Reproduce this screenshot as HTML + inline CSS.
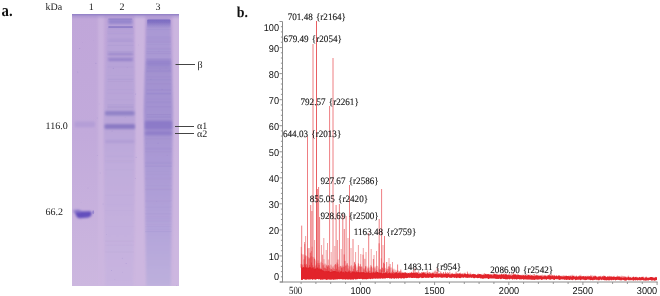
<!DOCTYPE html>
<html><head><meta charset="utf-8"><style>
html,body{margin:0;padding:0;background:#fff;} body>*{filter:blur(0.35px);}
body{width:660px;height:296px;position:relative;overflow:hidden;font-family:"Liberation Serif",serif;color:#222;text-rendering:geometricPrecision;}
.t{position:absolute;white-space:nowrap;line-height:1;}
</style></head><body>
<div class="t" style="left:45.5px;top:3px;font-size:10px">kDa</div>
<div class="t" style="left:88.8px;top:2.5px;font-size:10px">1</div>
<div class="t" style="left:119.5px;top:2.5px;font-size:10px">2</div>
<div class="t" style="left:155.5px;top:2.5px;font-size:10px">3</div>
<div class="t" style="left:45.5px;top:121.8px;font-size:10px">116.0</div>
<div class="t" style="left:45.5px;top:208.2px;font-size:10px">66.2</div>
<svg width="107" height="272" viewBox="0 0 107 272" style="position:absolute;left:72px;top:14px">
<defs>
 <linearGradient id="bg" x1="0" y1="0" x2="0" y2="1">
  <stop offset="0" stop-color="#c0a6d9"/><stop offset="0.45" stop-color="#c2aadb"/><stop offset="1" stop-color="#ccb7df"/>
 </linearGradient>
 <linearGradient id="l2" x1="0" y1="0" x2="0" y2="1">
  <stop offset="0" stop-color="#b6a2d8"/><stop offset="0.42" stop-color="#baa6d9"/><stop offset="0.55" stop-color="#c0acdc"/><stop offset="1" stop-color="#c8b4e0"/>
 </linearGradient>
 <linearGradient id="l3" x1="0" y1="0" x2="0" y2="1">
  <stop offset="0" stop-color="#a696d2"/>
  <stop offset="0.06" stop-color="#aa99d4"/>
  <stop offset="0.16" stop-color="#aa99d4"/>
  <stop offset="0.2" stop-color="#a392d0"/>
  <stop offset="0.39" stop-color="#a493d1"/>
  <stop offset="0.5" stop-color="#a998d4"/>
  <stop offset="0.75" stop-color="#b2a2d9"/>
  <stop offset="1" stop-color="#bdb0dd"/>
 </linearGradient>
 <linearGradient id="cap" x1="0" y1="0" x2="0" y2="1">
  <stop offset="0" stop-color="#7868c0" stop-opacity="0.95"/><stop offset="0.35" stop-color="#7c6cc2" stop-opacity="0.8"/><stop offset="1" stop-color="#8a7ac8" stop-opacity="0"/>
 </linearGradient>
 <filter id="bl" x="-30%" y="-300%" width="160%" height="700%"><feGaussianBlur stdDeviation="1.0 1.1"/></filter>
 <filter id="bl2" x="-30%" y="-30%" width="160%" height="160%"><feGaussianBlur stdDeviation="1.3"/></filter>
 <filter id="bl3" x="-30%" y="-300%" width="160%" height="700%"><feGaussianBlur stdDeviation="0.6 0.6"/></filter>
</defs>
<rect width="107" height="272" fill="url(#bg)"/>
<g filter="url(#bl2)">
<rect x="26" y="0" width="6" height="272" fill="#cdb6e0" opacity="0.7"/>
<rect x="62.5" y="0" width="10.5" height="272" fill="#ceb7e0" opacity="0.85"/>
<rect x="100.5" y="0" width="8" height="272" fill="#ceb7e0" opacity="0.85"/>
</g>
<path d="M35.5 4.5 L61.5 4.5 L63 106 L61 272 L33.5 272 L32.2 106 Z" fill="url(#l2)" filter="url(#bl2)"/>
<path d="M74.5 5.5 Q75 4.5 77 4.5 L96.5 4.5 Q98.5 4.5 98.5 7 L100.6 96 L98.80000000000001 272 L74.30000000000001 272 L71.80000000000001 96 Z" fill="url(#l3)" filter="url(#bl2)"/>
<linearGradient id="tg" x1="0" y1="0" x2="0" y2="1"><stop offset="0" stop-color="#8e7ec6" stop-opacity="0.6"/><stop offset="1" stop-color="#8e7ec6" stop-opacity="0"/></linearGradient>
<rect x="0" y="0" width="107" height="5" fill="url(#tg)"/>
<rect x="0" y="0" width="107" height="1.3" fill="#9684c8" filter="url(#bl3)"/>
<g filter="url(#bl3)"><rect x="35.5" y="65.1" width="26.0" height="1.2" fill="#9c8acb" opacity="0.15"/><rect x="35.5" y="91.3" width="26.0" height="1.3" fill="#9c8acb" opacity="0.15"/><rect x="35.5" y="16.4" width="26.0" height="1.4" fill="#9c8acb" opacity="0.13"/><rect x="35.5" y="67.2" width="26.0" height="0.7" fill="#9c8acb" opacity="0.17"/><rect x="35.5" y="52.5" width="26.0" height="1.0" fill="#9c8acb" opacity="0.10"/><rect x="35.5" y="61.1" width="26.0" height="0.8" fill="#9c8acb" opacity="0.08"/><rect x="35.5" y="36.9" width="26.0" height="1.2" fill="#9c8acb" opacity="0.17"/><rect x="35.5" y="27.1" width="26.0" height="0.7" fill="#9c8acb" opacity="0.16"/><rect x="35.5" y="64.6" width="26.0" height="0.6" fill="#9c8acb" opacity="0.09"/><rect x="35.5" y="85.5" width="26.0" height="0.8" fill="#9c8acb" opacity="0.10"/><rect x="35.5" y="94.6" width="26.0" height="0.8" fill="#9c8acb" opacity="0.17"/><rect x="35.5" y="92.8" width="26.0" height="1.1" fill="#9c8acb" opacity="0.13"/><rect x="35.5" y="30.8" width="26.0" height="1.2" fill="#9c8acb" opacity="0.17"/><rect x="35.5" y="93.3" width="26.0" height="0.8" fill="#9c8acb" opacity="0.17"/><rect x="35.5" y="43.6" width="26.0" height="0.7" fill="#9c8acb" opacity="0.10"/><rect x="35.5" y="19.3" width="26.0" height="1.1" fill="#9c8acb" opacity="0.11"/><rect x="35.5" y="14.3" width="26.0" height="0.9" fill="#9c8acb" opacity="0.15"/><rect x="35.5" y="39.4" width="26.0" height="1.0" fill="#9c8acb" opacity="0.16"/><rect x="35.5" y="39.9" width="26.0" height="1.2" fill="#9c8acb" opacity="0.13"/><rect x="35.5" y="18.7" width="26.0" height="0.6" fill="#9c8acb" opacity="0.18"/><rect x="35.5" y="75.5" width="26.0" height="0.6" fill="#9c8acb" opacity="0.16"/><rect x="35.5" y="78.6" width="26.0" height="1.1" fill="#9c8acb" opacity="0.12"/><rect x="35.5" y="14.7" width="26.0" height="0.7" fill="#9c8acb" opacity="0.08"/><rect x="35.5" y="92.3" width="26.0" height="1.2" fill="#9c8acb" opacity="0.10"/><rect x="35.5" y="90.2" width="26.0" height="0.9" fill="#9c8acb" opacity="0.17"/><rect x="35.5" y="43.1" width="26.0" height="1.2" fill="#9c8acb" opacity="0.13"/><rect x="33.0" y="147.9" width="29.0" height="1.2" fill="#a897d0" opacity="0.07"/><rect x="33.0" y="230.6" width="29.0" height="1.4" fill="#a897d0" opacity="0.08"/><rect x="33.0" y="146.0" width="29.0" height="1.1" fill="#a897d0" opacity="0.08"/><rect x="33.0" y="237.0" width="29.0" height="1.3" fill="#a897d0" opacity="0.08"/><rect x="33.0" y="196.0" width="29.0" height="0.9" fill="#a897d0" opacity="0.08"/><rect x="33.0" y="155.5" width="29.0" height="0.7" fill="#a897d0" opacity="0.08"/><rect x="33.0" y="211.8" width="29.0" height="0.7" fill="#a897d0" opacity="0.07"/><rect x="33.0" y="141.3" width="29.0" height="1.0" fill="#a897d0" opacity="0.07"/><rect x="33.0" y="180.6" width="29.0" height="1.1" fill="#a897d0" opacity="0.08"/><rect x="33.0" y="226.9" width="29.0" height="0.9" fill="#a897d0" opacity="0.08"/><rect x="33.0" y="142.1" width="29.0" height="0.6" fill="#a897d0" opacity="0.07"/><rect x="33.0" y="190.3" width="29.0" height="0.7" fill="#a897d0" opacity="0.07"/><rect x="74.5" y="79.3" width="24.5" height="1.1" fill="#8e7cc6" opacity="0.19"/><rect x="74.5" y="84.5" width="24.5" height="0.9" fill="#8e7cc6" opacity="0.09"/><rect x="74.5" y="25.7" width="24.5" height="0.8" fill="#8e7cc6" opacity="0.18"/><rect x="74.5" y="53.7" width="24.5" height="1.3" fill="#8e7cc6" opacity="0.20"/><rect x="74.5" y="101.8" width="24.5" height="1.0" fill="#8e7cc6" opacity="0.13"/><rect x="74.5" y="79.1" width="24.5" height="0.8" fill="#8e7cc6" opacity="0.14"/><rect x="74.5" y="49.1" width="24.5" height="0.9" fill="#8e7cc6" opacity="0.10"/><rect x="74.5" y="102.9" width="24.5" height="1.1" fill="#8e7cc6" opacity="0.20"/><rect x="74.5" y="57.9" width="24.5" height="0.7" fill="#8e7cc6" opacity="0.12"/><rect x="74.5" y="37.1" width="24.5" height="1.3" fill="#8e7cc6" opacity="0.17"/><rect x="74.5" y="45.2" width="24.5" height="1.2" fill="#8e7cc6" opacity="0.17"/><rect x="74.5" y="75.9" width="24.5" height="1.2" fill="#8e7cc6" opacity="0.16"/><rect x="74.5" y="45.4" width="24.5" height="0.8" fill="#8e7cc6" opacity="0.16"/><rect x="74.5" y="56.7" width="24.5" height="1.2" fill="#8e7cc6" opacity="0.17"/><rect x="74.5" y="39.0" width="24.5" height="1.1" fill="#8e7cc6" opacity="0.19"/><rect x="74.5" y="65.4" width="24.5" height="1.0" fill="#8e7cc6" opacity="0.08"/><rect x="74.5" y="35.1" width="24.5" height="1.0" fill="#8e7cc6" opacity="0.16"/><rect x="74.5" y="87.1" width="24.5" height="1.2" fill="#8e7cc6" opacity="0.16"/><rect x="74.5" y="44.0" width="24.5" height="1.2" fill="#8e7cc6" opacity="0.16"/><rect x="74.5" y="88.2" width="24.5" height="1.3" fill="#8e7cc6" opacity="0.12"/><rect x="74.5" y="92.0" width="24.5" height="1.4" fill="#8e7cc6" opacity="0.16"/><rect x="74.5" y="100.0" width="24.5" height="1.0" fill="#8e7cc6" opacity="0.14"/><rect x="74.5" y="27.3" width="24.5" height="1.3" fill="#8e7cc6" opacity="0.18"/><rect x="74.5" y="55.9" width="24.5" height="1.2" fill="#8e7cc6" opacity="0.16"/><rect x="74.5" y="79.2" width="24.5" height="1.2" fill="#8e7cc6" opacity="0.10"/><rect x="74.5" y="65.4" width="24.5" height="0.9" fill="#8e7cc6" opacity="0.16"/><rect x="74.5" y="69.4" width="24.5" height="1.1" fill="#8e7cc6" opacity="0.17"/><rect x="74.5" y="78.3" width="24.5" height="0.7" fill="#8e7cc6" opacity="0.08"/><rect x="74.5" y="52.6" width="24.5" height="0.8" fill="#8e7cc6" opacity="0.16"/><rect x="74.5" y="75.1" width="24.5" height="0.6" fill="#8e7cc6" opacity="0.16"/><rect x="74.5" y="55.4" width="24.5" height="0.6" fill="#8e7cc6" opacity="0.11"/><rect x="74.5" y="24.3" width="24.5" height="0.7" fill="#8e7cc6" opacity="0.12"/><rect x="74.5" y="29.8" width="24.5" height="1.0" fill="#8e7cc6" opacity="0.08"/><rect x="74.5" y="47.0" width="24.5" height="1.1" fill="#8e7cc6" opacity="0.15"/><rect x="74.5" y="33.9" width="24.5" height="0.6" fill="#8e7cc6" opacity="0.19"/><rect x="74.5" y="49.3" width="24.5" height="0.9" fill="#8e7cc6" opacity="0.11"/><rect x="74.5" y="22.6" width="24.5" height="0.9" fill="#8e7cc6" opacity="0.18"/><rect x="74.5" y="15.3" width="24.5" height="0.7" fill="#8e7cc6" opacity="0.15"/><rect x="74.5" y="62.2" width="24.5" height="1.1" fill="#8e7cc6" opacity="0.12"/><rect x="74.5" y="100.2" width="24.5" height="0.9" fill="#8e7cc6" opacity="0.18"/><rect x="73.0" y="202.7" width="26.5" height="0.9" fill="#9886ca" opacity="0.09"/><rect x="73.0" y="136.9" width="26.5" height="1.1" fill="#9886ca" opacity="0.09"/><rect x="73.0" y="216.8" width="26.5" height="1.1" fill="#9886ca" opacity="0.10"/><rect x="73.0" y="157.4" width="26.5" height="0.6" fill="#9886ca" opacity="0.10"/><rect x="73.0" y="133.6" width="26.5" height="1.1" fill="#9886ca" opacity="0.09"/><rect x="73.0" y="136.8" width="26.5" height="1.3" fill="#9886ca" opacity="0.09"/><rect x="73.0" y="159.8" width="26.5" height="0.8" fill="#9886ca" opacity="0.09"/><rect x="73.0" y="151.6" width="26.5" height="0.9" fill="#9886ca" opacity="0.10"/><rect x="73.0" y="217.2" width="26.5" height="1.1" fill="#9886ca" opacity="0.10"/><rect x="73.0" y="148.5" width="26.5" height="1.0" fill="#9886ca" opacity="0.10"/><rect x="73.0" y="163.7" width="26.5" height="1.4" fill="#9886ca" opacity="0.09"/><rect x="73.0" y="171.2" width="26.5" height="1.0" fill="#9886ca" opacity="0.09"/><rect x="73.0" y="134.9" width="26.5" height="1.0" fill="#9886ca" opacity="0.09"/><rect x="73.0" y="151.7" width="26.5" height="1.3" fill="#9886ca" opacity="0.10"/><rect x="73.0" y="124.3" width="26.5" height="0.8" fill="#9886ca" opacity="0.09"/><rect x="73.0" y="214.7" width="26.5" height="0.8" fill="#9886ca" opacity="0.10"/><rect x="73.0" y="149.2" width="26.5" height="1.4" fill="#9886ca" opacity="0.08"/><rect x="73.0" y="151.7" width="26.5" height="1.0" fill="#9886ca" opacity="0.09"/><rect x="73.0" y="186.2" width="26.5" height="1.2" fill="#9886ca" opacity="0.09"/><rect x="73.0" y="134.6" width="26.5" height="0.8" fill="#9886ca" opacity="0.10"/><rect x="73.0" y="175.3" width="26.5" height="0.8" fill="#9886ca" opacity="0.09"/><rect x="73.0" y="174.9" width="26.5" height="0.9" fill="#9886ca" opacity="0.09"/><rect x="73.0" y="196.0" width="26.5" height="0.6" fill="#9886ca" opacity="0.09"/><rect x="73.0" y="147.7" width="26.5" height="1.3" fill="#9886ca" opacity="0.09"/><rect x="73.0" y="210.0" width="26.5" height="0.6" fill="#9886ca" opacity="0.09"/><rect x="73.0" y="199.3" width="26.5" height="1.1" fill="#9886ca" opacity="0.09"/><rect x="73.0" y="192.4" width="26.5" height="1.0" fill="#9886ca" opacity="0.09"/><rect x="73.0" y="212.3" width="26.5" height="0.9" fill="#9886ca" opacity="0.09"/><rect x="73.0" y="206.5" width="26.5" height="0.8" fill="#9886ca" opacity="0.08"/><rect x="73.0" y="204.3" width="26.5" height="1.3" fill="#9886ca" opacity="0.08"/></g>
<g filter="url(#bl)"><rect x="36.4" y="4.9" width="23.8" height="5.2" rx="1.5" fill="#8f80ca" opacity="0.8"/><rect x="36.0" y="25.6" width="25.0" height="1.4" rx="1.5" fill="#9a88ca" opacity="0.55"/><rect x="36.0" y="38.8" width="25.0" height="2.4" rx="1.5" fill="#9482c8" opacity="0.7"/><rect x="36.0" y="44.3" width="25.0" height="2.7" rx="1.5" fill="#8c79c6" opacity="0.8"/><rect x="33.0" y="96.9" width="29.5" height="4.5" rx="1.5" fill="#8a7cc4" opacity="0.85"/><rect x="32.5" y="109.9" width="30.5" height="5.1" rx="1.5" fill="#8677c2" opacity="0.9"/><rect x="33.0" y="126.6" width="29.5" height="2.0" rx="1.5" fill="#a290ce" opacity="0.6"/><rect x="74.5" y="46.0" width="24.5" height="6.5" rx="1.5" fill="#8b79c8" opacity="0.6"/><rect x="74.5" y="52.5" width="24.5" height="5.5" rx="1.5" fill="#9c8bce" opacity="0.5"/><rect x="73.0" y="106.8" width="27.0" height="8.6" rx="1.5" fill="#8a78c8" opacity="0.9"/><rect x="73.0" y="117.0" width="27.0" height="4.2" rx="1.5" fill="#8d7bc8" opacity="0.85"/><rect x="2.5" y="107.6" width="20.5" height="5.6" rx="1.5" fill="#aa96d4" opacity="0.55"/></g>
<rect x="75.19999999999999" y="5.399999999999999" width="23.3" height="9" rx="1" fill="url(#cap)" filter="url(#bl3)"/>
<g filter="url(#bl3)"><rect x="36.4" y="12.4" width="24.3" height="1.3" fill="#7c6cc0" opacity="0.9"/><rect x="36.4" y="4.6" width="23.8" height="1.0" fill="#8070c2" opacity="0.6"/></g>
<path d="M3.0 197.6 L18.5 197.3 Q20.0 197.5 19.599999999999994 200.5 Q19.0 203.6 14 203.8 L8 204.2 Q5 204.2 4 201.5 Z" fill="#6350bd" filter="url(#bl)"/>
<ellipse cx="5" cy="197.3" rx="4" ry="1.8" fill="#7a68c4" opacity="0.6" filter="url(#bl)"/>
<ellipse cx="21.200000000000003" cy="198.3" rx="0.9" ry="2.0" fill="#7f6ec6" opacity="0.6" filter="url(#bl3)"/>
<g filter="url(#bl3)"><circle cx="74.3" cy="129.1" r="0.4" fill="#8e7cc6" opacity="0.40"/><circle cx="97.4" cy="56.0" r="0.5" fill="#8e7cc6" opacity="0.34"/><circle cx="53.3" cy="103.3" r="0.4" fill="#8e7cc6" opacity="0.35"/><circle cx="86.9" cy="37.2" r="0.4" fill="#8e7cc6" opacity="0.40"/><circle cx="84.7" cy="187.2" r="0.4" fill="#8e7cc6" opacity="0.38"/><circle cx="104.7" cy="271.6" r="0.5" fill="#8e7cc6" opacity="0.21"/><circle cx="90.1" cy="75.2" r="0.5" fill="#8e7cc6" opacity="0.44"/><circle cx="76.2" cy="53.9" r="0.4" fill="#8e7cc6" opacity="0.43"/><circle cx="16.0" cy="173.9" r="0.5" fill="#8e7cc6" opacity="0.24"/><circle cx="66.6" cy="31.0" r="0.4" fill="#8e7cc6" opacity="0.29"/><circle cx="7.7" cy="34.5" r="0.5" fill="#8e7cc6" opacity="0.39"/><circle cx="94.0" cy="53.9" r="0.5" fill="#8e7cc6" opacity="0.28"/><circle cx="64.2" cy="143.4" r="0.6" fill="#8e7cc6" opacity="0.29"/><circle cx="6.0" cy="195.7" r="0.4" fill="#8e7cc6" opacity="0.36"/><circle cx="54.1" cy="249.4" r="0.5" fill="#8e7cc6" opacity="0.36"/><circle cx="28.2" cy="159.0" r="0.4" fill="#8e7cc6" opacity="0.39"/><circle cx="55.3" cy="53.7" r="0.4" fill="#8e7cc6" opacity="0.29"/><circle cx="78.8" cy="65.2" r="0.5" fill="#8e7cc6" opacity="0.36"/><circle cx="9.1" cy="188.3" r="0.4" fill="#8e7cc6" opacity="0.23"/><circle cx="63.6" cy="80.1" r="0.6" fill="#8e7cc6" opacity="0.32"/><circle cx="34.6" cy="220.7" r="0.4" fill="#8e7cc6" opacity="0.38"/><circle cx="5.7" cy="58.0" r="0.6" fill="#8e7cc6" opacity="0.37"/><circle cx="23.9" cy="49.3" r="0.6" fill="#8e7cc6" opacity="0.37"/><circle cx="87.8" cy="55.2" r="0.5" fill="#8e7cc6" opacity="0.29"/><circle cx="25.1" cy="104.0" r="0.5" fill="#8e7cc6" opacity="0.29"/><circle cx="41.3" cy="54.4" r="0.6" fill="#8e7cc6" opacity="0.36"/><circle cx="86.1" cy="129.2" r="0.6" fill="#8e7cc6" opacity="0.33"/><circle cx="63.4" cy="164.5" r="0.5" fill="#8e7cc6" opacity="0.30"/><circle cx="10.4" cy="28.4" r="0.4" fill="#8e7cc6" opacity="0.21"/><circle cx="95.2" cy="141.2" r="0.5" fill="#8e7cc6" opacity="0.20"/><circle cx="50.3" cy="244.2" r="0.5" fill="#8e7cc6" opacity="0.31"/><circle cx="49.8" cy="45.1" r="0.4" fill="#8e7cc6" opacity="0.24"/><circle cx="40.1" cy="117.2" r="0.6" fill="#8e7cc6" opacity="0.24"/><circle cx="27.2" cy="89.9" r="0.4" fill="#8e7cc6" opacity="0.27"/><circle cx="25.2" cy="141.5" r="0.4" fill="#8e7cc6" opacity="0.43"/><circle cx="39.5" cy="256.4" r="0.5" fill="#8e7cc6" opacity="0.37"/><circle cx="50.5" cy="258.2" r="0.4" fill="#8e7cc6" opacity="0.37"/><circle cx="31.1" cy="190.0" r="0.5" fill="#8e7cc6" opacity="0.24"/><circle cx="21.5" cy="26.3" r="0.4" fill="#8e7cc6" opacity="0.22"/><circle cx="42.9" cy="265.3" r="0.4" fill="#8e7cc6" opacity="0.28"/></g>
</svg>
<svg width="660" height="296" style="position:absolute;left:0;top:0">
<path d="M175.5 64.5H195M175 126.5H194M175 133.5H194" stroke="#444" stroke-width="1" fill="none"/>
<text transform="translate(1.6,15.9) scale(0.87,1)" font-family="Liberation Serif" font-weight="bold" font-size="17" fill="#111">a.</text>
<text transform="translate(236.8,16.9) scale(0.93,1)" font-family="Liberation Serif" font-weight="bold" font-size="15" fill="#111">b.</text>
<g font-family="Liberation Serif" font-size="10" fill="#222">
<text x="197.5" y="67.5">β</text>
<text x="197" y="128.6">α1</text>
<text x="197" y="137.1">α2</text>
</g>
</svg>
<svg width="660" height="296" style="position:absolute;left:0;top:0">
<polygon points="301.0,266.9 301.8,267.2 302.6,267.8 303.4,267.1 304.2,267.2 305.0,267.4 305.8,266.8 306.6,267.4 307.4,267.7 308.2,268.0 309.0,266.9 309.8,267.3 310.6,267.0 311.4,268.2 312.2,268.1 313.0,267.1 313.8,268.7 314.6,268.7 315.4,268.4 316.2,268.5 317.0,268.1 317.8,268.1 318.6,269.1 319.4,268.6 320.2,269.1 321.0,269.4 321.8,269.3 322.6,270.2 323.4,270.4 324.2,271.3 325.0,271.0 325.8,271.3 326.6,271.1 327.4,271.3 328.2,271.1 329.0,270.8 329.8,272.0 330.6,272.0 331.4,271.8 332.2,271.6 333.0,271.0 333.8,270.9 334.6,271.0 335.4,270.7 336.2,271.8 337.0,271.3 337.8,272.0 338.6,271.3 339.4,272.3 340.2,272.1 341.0,270.8 341.8,271.2 342.6,272.3 343.4,271.6 344.2,272.5 345.0,271.6 345.8,271.1 346.6,272.0 347.4,272.3 348.2,271.5 349.0,271.2 349.8,271.7 350.6,272.7 351.4,272.4 352.2,271.4 353.0,271.6 353.8,271.4 354.6,271.4 355.4,272.6 356.2,271.6 357.0,272.3 357.8,272.1 358.6,271.8 359.4,272.6 360.2,271.7 361.0,272.5 361.8,271.7 362.6,272.2 363.4,271.9 364.2,272.0 365.0,273.1 365.8,272.9 366.6,272.1 367.4,273.0 368.2,272.0 369.0,272.3 369.8,273.0 370.6,272.7 371.4,271.9 372.2,273.3 373.0,272.1 373.8,272.2 374.6,273.0 375.4,272.3 376.2,272.3 377.0,271.9 377.8,272.0 378.6,272.8 379.4,272.2 380.2,272.8 381.0,272.5 381.8,272.6 382.6,273.4 383.4,272.7 384.2,272.8 385.0,273.3 385.8,272.2 386.6,272.2 387.4,273.4 388.2,273.3 389.0,272.4 389.8,272.3 390.6,273.2 391.4,273.6 392.2,272.4 393.0,273.6 393.8,273.5 394.6,273.1 395.4,272.8 396.2,272.3 397.0,272.2 397.8,273.7 398.6,272.6 399.4,273.3 400.2,272.6 401.0,273.5 401.8,273.2 402.6,272.7 403.4,272.5 404.2,273.4 405.0,272.4 405.8,272.7 406.6,273.2 407.4,273.7 408.2,273.3 409.0,272.8 409.8,273.8 410.6,272.7 411.4,272.4 412.2,272.8 413.0,273.1 413.8,272.5 414.6,272.7 415.4,273.0 416.2,273.4 417.0,272.7 417.8,273.1 418.6,273.9 419.4,274.1 420.2,273.6 421.0,273.7 421.8,273.5 422.6,272.8 423.4,272.6 424.2,272.6 425.0,274.1 425.8,273.8 426.6,274.2 427.4,272.7 428.2,273.7 429.0,273.5 429.8,273.9 430.6,273.2 431.4,274.3 432.2,272.9 433.0,273.6 433.8,274.0 434.6,274.2 435.4,274.0 436.2,273.9 437.0,274.1 437.8,274.3 438.6,273.4 439.4,274.0 440.2,274.3 441.0,274.3 441.8,273.6 442.6,274.2 443.4,274.3 444.2,273.9 445.0,274.0 445.8,273.6 446.6,273.9 447.4,274.0 448.2,273.2 449.0,274.1 449.8,274.7 450.6,274.5 451.4,274.3 452.2,273.7 453.0,274.3 453.8,274.1 454.6,273.9 455.4,274.5 456.2,273.3 457.0,274.4 457.8,273.3 458.6,274.2 459.4,274.0 460.2,273.6 461.0,274.4 461.8,274.1 462.6,274.3 463.4,274.8 464.2,273.8 465.0,273.4 465.8,273.9 466.6,274.5 467.4,273.7 468.2,273.7 469.0,274.9 469.8,274.5 470.6,274.2 471.4,274.9 472.2,274.0 473.0,274.6 473.8,273.8 474.6,274.2 475.4,274.8 476.2,275.0 477.0,275.0 477.8,274.2 478.6,274.5 479.4,274.1 480.2,273.9 481.0,274.5 481.8,275.0 482.6,275.0 483.4,274.8 484.2,275.2 485.0,274.2 485.8,274.0 486.6,274.5 487.4,274.2 488.2,274.1 489.0,274.5 489.8,274.8 490.6,274.6 491.4,274.4 492.2,275.2 493.0,275.5 493.8,274.6 494.6,274.0 495.4,274.0 496.2,275.3 497.0,274.0 497.8,275.1 498.6,274.9 499.4,274.5 500.2,275.3 501.0,274.1 501.8,274.3 502.6,274.8 503.4,274.1 504.2,275.4 505.0,274.5 505.8,274.3 506.6,274.2 507.4,275.2 508.2,274.9 509.0,275.2 509.8,275.2 510.6,275.5 511.4,275.8 512.2,275.3 513.0,274.6 513.8,275.0 514.6,274.6 515.4,274.3 516.2,275.1 517.0,275.5 517.8,274.6 518.6,274.8 519.4,274.9 520.2,275.5 521.0,275.3 521.8,275.4 522.6,275.7 523.4,275.1 524.2,275.8 525.0,275.9 525.8,274.7 526.6,276.0 527.4,275.7 528.2,274.8 529.0,275.3 529.8,275.6 530.6,276.1 531.4,275.2 532.2,275.6 533.0,276.1 533.8,276.0 534.6,276.2 535.4,275.4 536.2,275.8 537.0,275.1 537.8,275.9 538.6,276.1 539.4,275.8 540.2,276.0 541.0,275.2 541.8,276.3 542.6,276.4 543.4,276.4 544.2,275.7 545.0,276.2 545.8,275.4 546.6,276.4 547.4,276.3 548.2,275.5 549.0,275.1 549.8,275.7 550.6,275.9 551.4,276.3 552.2,275.8 553.0,275.1 553.8,276.4 554.6,275.2 555.4,276.4 556.2,275.4 557.0,275.7 557.8,276.4 558.6,275.4 559.4,275.4 560.2,276.0 561.0,276.4 561.8,276.6 562.6,276.4 563.4,276.8 564.2,276.1 565.0,276.8 565.8,275.4 566.6,275.7 567.4,276.2 568.2,275.8 569.0,276.5 569.8,276.4 570.6,276.2 571.4,276.8 572.2,276.3 573.0,275.9 573.8,276.1 574.6,276.8 575.4,276.9 576.2,275.8 577.0,276.9 577.8,277.1 578.6,276.4 579.4,276.5 580.2,275.9 581.0,276.4 581.8,276.4 582.6,276.6 583.4,275.7 584.2,277.2 585.0,276.5 585.8,276.3 586.6,277.0 587.4,276.6 588.2,276.5 589.0,276.8 589.8,275.9 590.6,276.6 591.4,276.4 592.2,277.3 593.0,277.3 593.8,276.3 594.6,276.6 595.4,276.1 596.2,276.6 597.0,277.2 597.8,277.3 598.6,276.7 599.4,276.4 600.2,276.3 601.0,276.9 601.8,277.5 602.6,276.2 603.4,277.3 604.2,276.1 605.0,276.3 605.8,276.4 606.6,277.2 607.4,276.6 608.2,276.7 609.0,277.1 609.8,276.3 610.6,277.3 611.4,276.4 612.2,277.0 613.0,276.6 613.8,276.5 614.6,277.1 615.4,276.9 616.2,276.8 617.0,276.9 617.8,277.1 618.6,276.5 619.4,276.6 620.2,277.3 621.0,277.4 621.8,277.2 622.6,277.7 623.4,277.4 624.2,277.8 625.0,276.8 625.8,277.6 626.6,277.7 627.4,277.9 628.2,277.0 629.0,277.0 629.8,278.0 630.6,276.9 631.4,278.1 632.2,278.0 633.0,276.8 633.8,277.0 634.6,277.7 635.4,277.0 636.2,276.8 637.0,278.0 637.8,277.3 638.6,277.9 639.4,276.9 640.2,277.3 641.0,277.8 641.8,276.7 642.6,277.1 643.4,277.8 644.2,278.2 645.0,278.3 645.8,277.0 646.6,277.6 647.4,278.0 648.2,277.6 649.0,277.9 649.8,277.2 650.6,277.0 651.4,277.1 652.2,277.0 653.0,277.8 653.8,277.8 654.6,277.9 655.4,277.2 656.2,277.3 657.0,277.3 657.0,280.2 656.2,280.1 655.4,280.6 654.6,280.8 653.8,280.4 653.0,280.1 652.2,280.7 651.4,280.6 650.6,280.0 649.8,280.1 649.0,280.0 648.2,280.7 647.4,280.2 646.6,280.6 645.8,280.5 645.0,280.8 644.2,280.2 643.4,280.6 642.6,280.1 641.8,280.1 641.0,280.5 640.2,280.2 639.4,280.2 638.6,280.1 637.8,280.4 637.0,280.2 636.2,280.1 635.4,280.4 634.6,280.0 633.8,280.6 633.0,280.8 632.2,279.8 631.4,280.2 630.6,280.3 629.8,280.0 629.0,280.5 628.2,280.1 627.4,279.8 626.6,280.4 625.8,280.6 625.0,280.7 624.2,280.2 623.4,280.1 622.6,279.8 621.8,280.4 621.0,280.0 620.2,280.4 619.4,280.1 618.6,280.0 617.8,279.7 617.0,280.0 616.2,280.0 615.4,280.5 614.6,279.8 613.8,280.1 613.0,280.2 612.2,279.8 611.4,280.4 610.6,279.7 609.8,280.5 609.0,280.0 608.2,280.4 607.4,279.9 606.6,280.4 605.8,280.1 605.0,280.5 604.2,280.0 603.4,280.0 602.6,279.6 601.8,280.2 601.0,279.8 600.2,279.6 599.4,280.3 598.6,280.3 597.8,280.3 597.0,279.5 596.2,280.2 595.4,279.6 594.6,280.0 593.8,279.7 593.0,280.4 592.2,280.1 591.4,279.9 590.6,280.3 589.8,279.7 589.0,279.7 588.2,279.5 587.4,279.5 586.6,280.0 585.8,280.1 585.0,280.2 584.2,279.7 583.4,279.8 582.6,279.4 581.8,279.6 581.0,280.0 580.2,280.3 579.4,279.6 578.6,279.8 577.8,279.8 577.0,279.7 576.2,280.1 575.4,280.2 574.6,279.3 573.8,279.5 573.0,279.7 572.2,280.2 571.4,279.8 570.6,279.6 569.8,280.1 569.0,280.1 568.2,279.5 567.4,279.7 566.6,280.0 565.8,279.7 565.0,279.5 564.2,279.9 563.4,279.3 562.6,279.4 561.8,279.3 561.0,279.4 560.2,279.7 559.4,279.9 558.6,279.4 557.8,279.3 557.0,279.3 556.2,279.2 555.4,279.1 554.6,280.0 553.8,279.7 553.0,279.5 552.2,279.1 551.4,279.2 550.6,279.8 549.8,279.7 549.0,279.2 548.2,279.3 547.4,279.1 546.6,280.0 545.8,279.3 545.0,279.4 544.2,279.2 543.4,279.2 542.6,279.4 541.8,280.0 541.0,279.7 540.2,279.1 539.4,279.4 538.6,279.4 537.8,279.7 537.0,279.6 536.2,279.5 535.4,279.6 534.6,279.9 533.8,279.8 533.0,279.7 532.2,279.7 531.4,279.7 530.6,279.5 529.8,279.7 529.0,279.3 528.2,279.8 527.4,279.6 526.6,279.6 525.8,279.4 525.0,279.3 524.2,279.5 523.4,279.8 522.6,279.1 521.8,279.2 521.0,279.6 520.2,279.3 519.4,279.5 518.6,279.0 517.8,279.0 517.0,279.4 516.2,279.5 515.4,278.9 514.6,279.4 513.8,278.8 513.0,279.6 512.2,279.5 511.4,278.8 510.6,278.8 509.8,279.5 509.0,279.2 508.2,278.7 507.4,279.4 506.6,279.2 505.8,279.5 505.0,279.1 504.2,279.0 503.4,279.0 502.6,278.5 501.8,278.7 501.0,279.3 500.2,279.1 499.4,278.5 498.6,278.9 497.8,279.1 497.0,278.8 496.2,279.0 495.4,278.8 494.6,278.4 493.8,278.5 493.0,278.5 492.2,278.4 491.4,278.4 490.6,278.4 489.8,278.2 489.0,278.9 488.2,278.9 487.4,278.3 486.6,278.2 485.8,278.2 485.0,278.6 484.2,278.2 483.4,278.7 482.6,278.7 481.8,278.6 481.0,278.3 480.2,278.4 479.4,277.7 478.6,278.0 477.8,278.3 477.0,277.9 476.2,277.7 475.4,277.8 474.6,278.2 473.8,278.2 473.0,277.7 472.2,277.5 471.4,278.0 470.6,277.5 469.8,277.4 469.0,278.1 468.2,277.6 467.4,278.0 466.6,277.8 465.8,277.8 465.0,277.4 464.2,277.3 463.4,278.1 462.6,277.4 461.8,277.6 461.0,277.7 460.2,278.2 459.4,278.0 458.6,277.8 457.8,277.6 457.0,278.2 456.2,277.9 455.4,277.6 454.6,278.0 453.8,277.5 453.0,277.6 452.2,277.4 451.4,278.0 450.6,277.8 449.8,278.0 449.0,277.3 448.2,277.3 447.4,278.0 446.6,277.9 445.8,277.5 445.0,277.4 444.2,277.6 443.4,277.5 442.6,277.8 441.8,277.7 441.0,277.8 440.2,277.2 439.4,277.2 438.6,277.7 437.8,277.2 437.0,277.8 436.2,277.6 435.4,277.4 434.6,277.2 433.8,277.2 433.0,278.0 432.2,278.0 431.4,278.1 430.6,277.4 429.8,277.3 429.0,277.9 428.2,277.8 427.4,277.7 426.6,277.7 425.8,277.9 425.0,277.5 424.2,277.6 423.4,277.9 422.6,278.0 421.8,278.2 421.0,277.4 420.2,277.5 419.4,278.0 418.6,278.3 417.8,278.3 417.0,277.9 416.2,278.2 415.4,277.8 414.6,278.0 413.8,277.7 413.0,277.9 412.2,278.1 411.4,277.9 410.6,277.6 409.8,278.0 409.0,277.6 408.2,277.7 407.4,278.0 406.6,278.2 405.8,277.7 405.0,278.2 404.2,278.4 403.4,278.6 402.6,278.1 401.8,278.4 401.0,278.6 400.2,278.2 399.4,278.0 398.6,278.7 397.8,278.2 397.0,278.2 396.2,278.7 395.4,277.9 394.6,278.8 393.8,278.8 393.0,277.9 392.2,278.6 391.4,278.8 390.6,278.3 389.8,278.7 389.0,278.1 388.2,278.0 387.4,278.2 386.6,278.0 385.8,278.3 385.0,278.7 384.2,278.3 383.4,278.6 382.6,278.7 381.8,278.3 381.0,278.4 380.2,278.7 379.4,278.6 378.6,278.6 377.8,279.1 377.0,278.3 376.2,278.8 375.4,278.7 374.6,278.4 373.8,278.8 373.0,278.5 372.2,279.3 371.4,278.4 370.6,279.2 369.8,279.0 369.0,278.5 368.2,279.3 367.4,279.1 366.6,279.5 365.8,279.1 365.0,279.5 364.2,279.1 363.4,279.2 362.6,279.6 361.8,278.9 361.0,278.8 360.2,279.1 359.4,279.0 358.6,278.8 357.8,279.2 357.0,279.1 356.2,279.5 355.4,279.4 354.6,278.8 353.8,279.8 353.0,279.6 352.2,279.5 351.4,279.5 350.6,279.8 349.8,279.2 349.0,279.4 348.2,279.4 347.4,279.5 346.6,279.2 345.8,279.5 345.0,279.8 344.2,279.1 343.4,279.5 342.6,279.5 341.8,279.2 341.0,278.9 340.2,279.3 339.4,279.2 338.6,278.9 337.8,279.6 337.0,279.3 336.2,279.6 335.4,279.6 334.6,279.6 333.8,279.8 333.0,279.8 332.2,279.3 331.4,279.7 330.6,279.7 329.8,279.6 329.0,279.8 328.2,279.2 327.4,279.7 326.6,279.9 325.8,279.4 325.0,279.5 324.2,279.3 323.4,279.6 322.6,279.8 321.8,279.6 321.0,279.7 320.2,279.8 319.4,279.0 318.6,279.5 317.8,279.1 317.0,279.1 316.2,279.4 315.4,279.7 314.6,279.4 313.8,279.1 313.0,279.8 312.2,279.7 311.4,279.0 310.6,279.6 309.8,279.4 309.0,279.5 308.2,279.4 307.4,279.3 306.6,279.7 305.8,279.4 305.0,279.9 304.2,279.1 303.4,279.1 302.6,279.9 301.8,280.0 301.0,279.8" fill="#e2242b"/>
<polygon points="301.0,253.6 302.0,253.7 303.0,255.0 304.0,253.8 305.0,257.4 306.0,255.6 307.0,256.1 308.0,256.9 309.0,257.5 310.0,257.9 311.0,256.4 312.0,256.3 313.0,257.5 314.0,256.7 315.0,259.1 316.0,261.1 317.0,263.1 318.0,263.2 319.0,263.0 320.0,263.2 321.0,261.2 322.0,262.8 323.0,263.2 324.0,264.9 325.0,263.1 326.0,264.5 327.0,265.1 328.0,266.2 329.0,266.4 330.0,265.6 331.0,263.9 332.0,266.3 333.0,266.9 334.0,265.5 335.0,264.8 336.0,265.4 337.0,264.1 338.0,266.4 339.0,267.5 340.0,265.7 341.0,266.5 342.0,267.0 343.0,264.5 344.0,267.6 345.0,266.3 346.0,264.7 347.0,264.3 348.0,264.9 349.0,266.3 350.0,266.8 351.0,265.4 352.0,267.9 353.0,265.6 354.0,266.1 355.0,264.8 356.0,268.2 357.0,264.9 358.0,268.0 359.0,266.6 360.0,266.7 361.0,266.8 362.0,265.7 363.0,268.3 364.0,268.7 365.0,268.1 366.0,267.3 367.0,265.4 368.0,268.3 369.0,266.2 370.0,268.7 371.0,266.2 372.0,267.5 373.0,268.6 374.0,266.1 375.0,267.6 376.0,265.8 377.0,265.7 378.0,266.3 379.0,269.6 380.0,269.5 381.0,268.4 382.0,267.1 383.0,268.6 384.0,269.0 385.0,267.6 386.0,268.5 387.0,269.4 388.0,266.3 389.0,267.1 390.0,268.2 391.0,267.0 392.0,268.0 393.0,269.3 394.0,268.2 395.0,270.1 396.0,269.6 397.0,271.3 398.0,270.8 399.0,272.6 400.0,270.7 401.0,273.2 402.0,271.1 403.0,274.4 404.0,273.0 405.0,272.5 406.0,272.3 407.0,273.2 408.0,273.5 409.0,273.8 410.0,273.8 411.0,272.8 412.0,274.9 413.0,274.3 414.0,274.4 415.0,272.6 416.0,272.8 417.0,273.3 418.0,274.7 419.0,273.2 420.0,273.3 421.0,272.9 422.0,274.9 423.0,272.5 424.0,271.5 425.0,274.2 426.0,275.0 427.0,274.3 428.0,273.8 429.0,274.5 430.0,272.7 431.0,273.9 432.0,271.8 433.0,272.1 434.0,273.4 435.0,273.6 436.0,273.2 437.0,271.8 438.0,274.4 439.0,273.8 440.0,272.6 441.0,272.9 442.0,273.3 443.0,272.7 444.0,272.0 445.0,275.4 446.0,275.7 447.0,274.5 448.0,275.3 449.0,273.5 450.0,275.1 451.0,272.8 452.0,274.9 453.0,274.2 454.0,275.6 455.0,272.4 456.0,275.2 457.0,272.5 458.0,274.2 459.0,275.8 460.0,272.1 461.0,273.1 462.0,273.3 463.0,273.4 464.0,272.4 465.0,275.7 466.0,275.4 467.0,273.8 468.0,273.6 469.0,274.6 470.0,272.4 471.0,272.4 472.0,275.9 473.0,273.5 474.0,274.3 475.0,276.1 476.0,276.3 477.0,274.3 478.0,273.2 479.0,273.6 480.0,276.1 481.0,276.0 482.0,273.3 483.0,275.8 484.0,273.9 485.0,274.4 486.0,273.2 487.0,276.1 488.0,276.6 489.0,273.4 490.0,275.2 491.0,273.4 492.0,276.2 493.0,272.9 494.0,273.1 495.0,275.6 496.0,274.0 497.0,276.4 498.0,276.3 499.0,275.6 500.0,273.4 501.0,275.6 502.0,276.6 503.0,274.6 504.0,273.2 505.0,273.8 506.0,274.2 507.0,275.8 508.0,273.7 509.0,273.7 510.0,273.9 511.0,275.7 512.0,276.2 513.0,274.6 514.0,275.7 515.0,276.6 516.0,275.5 517.0,274.1 518.0,274.4 519.0,276.9 520.0,275.9 521.0,274.3 522.0,275.8 523.0,273.6 524.0,277.2 525.0,275.1 526.0,275.4 527.0,275.5 528.0,273.5 529.0,275.8 530.0,274.5 531.0,274.4 532.0,276.7 533.0,273.8 534.0,274.6 535.0,276.5 536.0,274.5 537.0,274.7 538.0,275.8 539.0,274.3 540.0,277.2 541.0,277.6 542.0,273.8 543.0,275.5 544.0,276.7 545.0,275.2 546.0,277.4 547.0,275.7 548.0,274.5 549.0,276.0 550.0,276.4 551.0,275.3 552.0,276.5 553.0,277.0 554.0,275.9 555.0,275.9 556.0,277.3 557.0,276.7 558.0,276.0 559.0,277.8 560.0,274.7 561.0,277.1 562.0,274.7 563.0,276.5 564.0,275.0 565.0,275.9 566.0,277.2 567.0,277.3 568.0,277.3 569.0,275.1 570.0,276.1 571.0,275.1 572.0,276.5 573.0,276.2 574.0,274.4 575.0,276.7 576.0,277.2 577.0,276.6 578.0,277.8 579.0,275.1 580.0,275.0 581.0,274.5 582.0,276.4 583.0,276.2 584.0,276.2 585.0,275.5 586.0,277.7 587.0,274.8 588.0,278.1 589.0,276.8 590.0,276.7 591.0,277.7 592.0,275.5 593.0,275.2 594.0,275.9 595.0,274.8 596.0,275.9 597.0,277.2 598.0,276.8 599.0,275.8 600.0,277.1 601.0,275.1 602.0,278.1 603.0,275.5 604.0,275.8 605.0,275.5 606.0,277.6 607.0,278.2 608.0,278.0 609.0,275.2 610.0,276.6 611.0,276.4 612.0,275.8 613.0,278.9 614.0,275.2 615.0,277.0 616.0,278.1 617.0,279.0 618.0,275.7 619.0,276.9 620.0,278.1 621.0,275.3 622.0,276.1 623.0,278.7 624.0,275.8 625.0,276.8 626.0,276.4 627.0,276.9 628.0,275.6 629.0,275.4 630.0,279.3 631.0,278.4 632.0,278.3 633.0,276.3 634.0,276.4 635.0,277.6 636.0,276.4 637.0,277.3 638.0,279.2 639.0,276.9 640.0,276.8 641.0,279.4 642.0,278.0 643.0,275.7 644.0,277.2 645.0,278.2 646.0,275.8 647.0,277.0 648.0,278.4 649.0,279.1 650.0,278.0 651.0,279.2 652.0,277.6 653.0,277.3 654.0,279.1 655.0,277.3 656.0,278.9 657.0,276.7 657.0,278.8 656.0,278.8 655.0,278.8 654.0,278.7 653.0,278.7 652.0,278.7 651.0,278.7 650.0,278.7 649.0,278.7 648.0,278.6 647.0,278.6 646.0,278.6 645.0,278.6 644.0,278.6 643.0,278.5 642.0,278.5 641.0,278.5 640.0,278.5 639.0,278.5 638.0,278.4 637.0,278.4 636.0,278.4 635.0,278.4 634.0,278.4 633.0,278.4 632.0,278.3 631.0,278.3 630.0,278.3 629.0,278.3 628.0,278.3 627.0,278.2 626.0,278.2 625.0,278.2 624.0,278.2 623.0,278.2 622.0,278.2 621.0,278.1 620.0,278.1 619.0,278.1 618.0,278.1 617.0,278.1 616.0,278.0 615.0,278.0 614.0,278.0 613.0,278.0 612.0,278.0 611.0,277.9 610.0,277.9 609.0,277.9 608.0,277.9 607.0,277.9 606.0,277.9 605.0,277.8 604.0,277.8 603.0,277.8 602.0,277.8 601.0,277.8 600.0,277.7 599.0,277.7 598.0,277.7 597.0,277.7 596.0,277.7 595.0,277.6 594.0,277.6 593.0,277.6 592.0,277.6 591.0,277.6 590.0,277.6 589.0,277.5 588.0,277.5 587.0,277.5 586.0,277.5 585.0,277.5 584.0,277.4 583.0,277.4 582.0,277.4 581.0,277.4 580.0,277.4 579.0,277.4 578.0,277.3 577.0,277.3 576.0,277.3 575.0,277.3 574.0,277.3 573.0,277.2 572.0,277.2 571.0,277.2 570.0,277.2 569.0,277.2 568.0,277.1 567.0,277.1 566.0,277.1 565.0,277.1 564.0,277.1 563.0,277.1 562.0,277.0 561.0,277.0 560.0,277.0 559.0,277.0 558.0,277.0 557.0,276.9 556.0,276.9 555.0,276.9 554.0,276.9 553.0,276.9 552.0,276.8 551.0,276.8 550.0,276.8 549.0,276.8 548.0,276.8 547.0,276.7 546.0,276.7 545.0,276.7 544.0,276.7 543.0,276.7 542.0,276.6 541.0,276.6 540.0,276.6 539.0,276.6 538.0,276.6 537.0,276.5 536.0,276.5 535.0,276.5 534.0,276.5 533.0,276.5 532.0,276.4 531.0,276.4 530.0,276.4 529.0,276.4 528.0,276.4 527.0,276.3 526.0,276.3 525.0,276.3 524.0,276.3 523.0,276.3 522.0,276.2 521.0,276.2 520.0,276.2 519.0,276.2 518.0,276.2 517.0,276.1 516.0,276.1 515.0,276.1 514.0,276.1 513.0,276.1 512.0,276.0 511.0,276.0 510.0,276.0 509.0,276.0 508.0,276.0 507.0,275.9 506.0,275.9 505.0,275.9 504.0,275.9 503.0,275.9 502.0,275.9 501.0,275.8 500.0,275.8 499.0,275.8 498.0,275.8 497.0,275.8 496.0,275.7 495.0,275.7 494.0,275.7 493.0,275.7 492.0,275.7 491.0,275.6 490.0,275.6 489.0,275.6 488.0,275.6 487.0,275.6 486.0,275.6 485.0,275.5 484.0,275.5 483.0,275.5 482.0,275.5 481.0,275.5 480.0,275.4 479.0,275.4 478.0,275.4 477.0,275.4 476.0,275.4 475.0,275.3 474.0,275.3 473.0,275.3 472.0,275.3 471.0,275.3 470.0,275.2 469.0,275.2 468.0,275.2 467.0,275.2 466.0,275.2 465.0,275.2 464.0,275.1 463.0,275.1 462.0,275.1 461.0,275.1 460.0,275.1 459.0,275.0 458.0,275.0 457.0,275.0 456.0,275.0 455.0,275.0 454.0,274.9 453.0,274.9 452.0,274.9 451.0,274.9 450.0,274.9 449.0,274.9 448.0,274.8 447.0,274.8 446.0,274.8 445.0,274.8 444.0,274.8 443.0,274.7 442.0,274.7 441.0,274.7 440.0,274.7 439.0,274.7 438.0,274.6 437.0,274.6 436.0,274.6 435.0,274.6 434.0,274.6 433.0,274.6 432.0,274.5 431.0,274.5 430.0,274.5 429.0,274.5 428.0,274.5 427.0,274.4 426.0,274.4 425.0,274.4 424.0,274.4 423.0,274.4 422.0,274.4 421.0,274.4 420.0,274.3 419.0,274.3 418.0,274.3 417.0,274.3 416.0,274.3 415.0,274.2 414.0,274.2 413.0,274.2 412.0,274.2 411.0,274.2 410.0,274.2 409.0,274.1 408.0,274.1 407.0,274.1 406.0,274.1 405.0,274.1 404.0,274.1 403.0,274.1 402.0,274.0 401.0,274.0 400.0,274.0 399.0,274.0 398.0,274.0 397.0,273.9 396.0,273.9 395.0,273.9 394.0,273.9 393.0,273.9 392.0,273.9 391.0,273.8 390.0,273.8 389.0,273.8 388.0,273.8 387.0,273.8 386.0,273.8 385.0,273.7 384.0,273.7 383.0,273.7 382.0,273.7 381.0,273.7 380.0,273.6 379.0,273.6 378.0,273.6 377.0,273.6 376.0,273.6 375.0,273.6 374.0,273.5 373.0,273.5 372.0,273.5 371.0,273.5 370.0,273.5 369.0,273.5 368.0,273.4 367.0,273.4 366.0,273.4 365.0,273.4 364.0,273.4 363.0,273.4 362.0,273.3 361.0,273.3 360.0,273.3 359.0,273.3 358.0,273.2 357.0,273.2 356.0,273.2 355.0,273.1 354.0,273.1 353.0,273.0 352.0,273.0 351.0,273.0 350.0,272.9 349.0,272.9 348.0,272.9 347.0,272.8 346.0,272.8 345.0,272.7 344.0,272.7 343.0,272.7 342.0,272.6 341.0,272.6 340.0,272.6 339.0,272.5 338.0,272.5 337.0,272.4 336.0,272.4 335.0,272.4 334.0,272.3 333.0,272.3 332.0,272.3 331.0,272.2 330.0,272.2 329.0,272.1 328.0,272.1 327.0,272.1 326.0,272.0 325.0,272.0 324.0,271.7 323.0,271.4 322.0,271.1 321.0,270.8 320.0,270.5 319.0,270.2 318.0,269.9 317.0,269.6 316.0,269.3 315.0,269.0 314.0,268.9 313.0,268.9 312.0,268.8 311.0,268.7 310.0,268.6 309.0,268.6 308.0,268.5 307.0,268.4 306.0,268.4 305.0,268.3 304.0,268.2 303.0,268.1 302.0,268.1 301.0,268.0" fill="#e2242b" fill-opacity="0.3"/>
<path d="M301.2 268.0V264.0M301.9 268.1V265.5M302.8 268.1V264.5M304.0 268.2V259.3M304.7 268.3V263.9M305.5 268.3V265.1M306.3 268.4V263.9M307.3 268.5V265.3M308.0 268.5V248.2M309.1 268.6V258.6M309.7 268.6V264.9M310.3 268.7V252.7M311.4 268.7V262.6M312.1 268.8V267.5M312.7 268.8V265.2M313.7 268.9V266.9M314.4 269.0V258.9M315.1 269.0V266.4M316.1 269.3V264.7M317.3 269.7V266.9M318.1 269.9V267.7M319.0 270.2V265.0M320.2 270.6V267.8M321.4 270.9V268.7M322.4 271.2V254.7M323.1 271.4V265.4M324.0 271.7V268.2M324.8 271.9V267.5M325.5 272.0V268.4M326.2 272.0V265.6M326.8 272.1V269.0M327.5 272.1V266.7M328.4 272.1V265.1M329.3 272.2V270.8M329.9 272.2V267.8M330.8 272.2V269.2M331.4 272.2V269.1M332.3 272.3V269.8M333.0 272.3V268.1M334.2 272.3V269.1M335.4 272.4V264.0M336.4 272.4V268.8M337.1 272.5V262.6M338.0 272.5V259.5M338.9 272.5V269.7M340.0 272.6V270.7M340.8 272.6V265.9M341.4 272.6V267.7M342.1 272.6V268.2M343.1 272.7V266.8M344.2 272.7V254.4M345.0 272.7V260.9M346.0 272.8V265.8M347.2 272.8V263.1M348.1 272.9V268.5M349.0 272.9V270.2M349.9 272.9V270.6M350.7 273.0V271.0M351.4 273.0V271.7M352.4 273.0V271.4M353.4 273.1V268.8M354.6 273.1V261.9M355.5 273.1V264.2M356.5 273.2V270.7M357.3 273.2V270.2M358.4 273.2V263.4M359.2 273.3V266.1M360.3 273.3V264.2M361.2 273.3V266.8M361.9 273.3V272.3M363.0 273.4V254.7M364.1 273.4V269.7M364.9 273.4V258.8M365.5 273.4V266.2M366.2 273.4V270.7M367.3 273.4V271.8M368.0 273.4V268.5M368.8 273.5V270.6M369.9 273.5V270.8M370.9 273.5V265.2M371.7 273.5V266.6M372.8 273.5V271.7M373.4 273.5V259.0M374.3 273.6V271.9M374.9 273.6V268.4M375.9 273.6V271.0M376.8 273.6V270.3M377.4 273.6V272.3M378.2 273.6V272.2M379.1 273.6V243.3M380.2 273.7V269.3M381.3 273.7V270.2M382.3 273.7V267.8M383.5 273.7V262.7M384.3 273.7V263.8M385.0 273.7V272.6M385.7 273.8V272.4M386.8 273.8V270.9M387.4 273.8V271.6M388.0 273.8V269.0M389.1 273.8V266.2M390.1 273.8V264.0M391.3 273.8V272.3M392.2 273.9V271.5M392.9 273.9V270.2M393.5 273.9V271.9M394.3 273.9V272.4M395.1 273.9V271.7M396.2 273.9V272.4M397.2 274.0V272.5M397.9 274.0V270.4M398.7 274.0V272.9M399.5 274.0V271.5M400.3 274.0V271.5M401.2 274.0V271.8M401.9 274.0V272.9M402.6 274.0V272.6M403.4 274.1V273.0M404.3 274.1V272.5M405.1 274.1V272.2M406.3 274.1V272.9M407.4 274.1V272.7M408.5 274.1V273.0M409.7 274.2V272.5M410.8 274.2V272.9M411.7 274.2V271.8M412.4 274.2V272.9M413.4 274.2V270.0M414.2 274.2V273.0M415.0 274.3V268.2M415.7 274.3V272.2M416.5 274.3V272.1M417.3 274.3V272.2M418.4 274.3V271.2M419.4 274.3V272.5M420.3 274.3V273.2M421.4 274.4V272.1M422.3 274.4V272.2M423.1 274.4V272.9M423.9 274.4V272.4M424.8 274.4V272.6M425.4 274.4V272.3M426.3 274.4V272.4M427.3 274.5V270.5M428.0 274.5V272.8M429.1 274.5V272.0M429.9 274.5V272.0M431.1 274.5V273.0M432.2 274.5V273.4M433.4 274.6V272.8M434.2 274.6V271.6M435.2 274.6V270.5M436.3 274.6V271.9M437.2 274.6V268.1M437.8 274.6V271.4M438.8 274.7V273.3M439.9 274.7V273.0M440.8 274.7V271.5M441.6 274.7V273.4M442.6 274.7V273.7M443.5 274.8V272.1M444.4 274.8V273.5M445.5 274.8V271.7M446.5 274.8V272.9M447.7 274.8V272.1M448.4 274.8V273.3M449.0 274.9V273.8M449.8 274.9V271.7M450.9 274.9V273.8M451.6 274.9V273.4M452.7 274.9V272.9M453.9 274.9V273.9M455.1 275.0V273.7M456.1 275.0V271.7M457.1 275.0V273.8M458.1 275.0V273.4M458.7 275.0V273.6M459.5 275.1V273.0M460.3 275.1V273.6M461.7 275.1V274.0M462.7 275.1V273.5M464.0 275.1V274.1M465.0 275.2V272.7M466.4 275.2V274.0M467.4 275.2V271.6M468.9 275.2V273.6M470.1 275.3V274.1M471.3 275.3V274.2M472.7 275.3V274.0M474.3 275.3V274.1M475.5 275.4V274.0M477.2 275.4V274.2M478.6 275.4V274.3M480.0 275.4V274.3M481.6 275.5V274.3M483.2 275.5V273.9M484.4 275.5V273.2M485.7 275.5V273.9M487.0 275.6V274.3M488.0 275.6V274.3M489.1 275.6V274.3M490.8 275.6V274.5M492.2 275.7V274.1M493.3 275.7V274.4M494.3 275.7V273.6M495.4 275.7V274.5M496.6 275.7V273.9M498.2 275.8V274.3M499.5 275.8V274.8M501.1 275.8V274.8M502.3 275.9V274.6M503.8 275.9V274.3M505.0 275.9V273.8M506.6 275.9V274.9M508.1 276.0V274.6M509.2 276.0V274.7M510.4 276.0V274.5M511.8 276.0V273.3M513.5 276.1V272.6M514.7 276.1V274.2M516.1 276.1V274.5M517.8 276.2V275.1M519.1 276.2V274.9M520.5 276.2V275.1M522.2 276.2V275.1M523.4 276.3V275.2M524.6 276.3V274.6M525.6 276.3V275.2M527.0 276.3V274.9M528.5 276.4V275.2M530.0 276.4V274.7M531.5 276.4V275.4M532.8 276.5V275.4M534.4 276.5V274.0M536.0 276.5V275.5M537.2 276.5V275.2M538.5 276.6V275.5M540.1 276.6V275.4M541.4 276.6V275.6M542.7 276.7V275.6M543.7 276.7V275.3M544.8 276.7V274.9M545.9 276.7V275.5M546.9 276.7V275.6M548.1 276.8V275.4M549.4 276.8V274.8M550.4 276.8V274.9M551.4 276.8V274.1M552.7 276.9V275.6M554.1 276.9V274.9M555.8 276.9V275.6M556.7 276.9V275.9M558.3 277.0V275.3M559.7 277.0V275.9M561.0 277.0V276.0M562.0 277.0V275.9M563.7 277.1V275.6M565.3 277.1V276.1M566.5 277.1V276.1M567.6 277.1V276.1M569.3 277.2V276.0M570.6 277.2V275.7M572.2 277.2V274.8M573.5 277.3V275.9M575.1 277.3V276.0M576.3 277.3V275.6M577.4 277.3V276.1M578.6 277.3V276.0M579.8 277.4V276.1M581.1 277.4V276.4M582.6 277.4V276.4M584.0 277.4V276.0M585.2 277.5V276.3M586.2 277.5V276.3M587.3 277.5V276.2M588.4 277.5V275.8M589.7 277.6V276.5M590.9 277.6V274.9M591.8 277.6V276.1M593.5 277.6V276.4M594.9 277.6V276.4M596.0 277.7V276.2M597.4 277.7V276.5M598.7 277.7V276.4M600.2 277.7V276.7M601.2 277.8V276.6M602.3 277.8V276.0M603.5 277.8V275.8M604.7 277.8V276.7M606.2 277.9V276.8M607.9 277.9V276.0M609.0 277.9V276.7M610.6 277.9V276.2M612.0 278.0V276.9M613.5 278.0V277.0M614.9 278.0V276.6M616.6 278.0V276.5M617.5 278.1V275.7M619.0 278.1V276.7M619.9 278.1V276.4M621.1 278.1V276.6M622.8 278.2V275.9M623.8 278.2V276.4M625.0 278.2V276.5M626.2 278.2V276.9M627.5 278.3V277.2M628.6 278.3V276.6M629.6 278.3V277.2M631.1 278.3V276.8M632.5 278.3V277.3M633.5 278.4V277.2M635.1 278.4V277.0M636.8 278.4V277.3M638.0 278.4V277.1M639.6 278.5V277.4M641.2 278.5V277.2M642.1 278.5V277.2M643.3 278.5V277.0M644.9 278.6V277.2M646.4 278.6V277.4M647.9 278.6V277.6M649.4 278.7V277.6M650.8 278.7V277.6M652.0 278.7V277.6M653.1 278.7V277.3M654.5 278.8V277.5M655.8 278.8V276.9" stroke="#e2242b" stroke-width="0.7" stroke-opacity="0.8" fill="none"/>
<path d="M301.2 267.0V246.9M304.7 267.3V244.1M305.5 267.3V255.3M311.4 267.7V251.1M312.1 267.8V246.7M318.1 268.9V260.4M324.0 270.7V259.2M328.4 271.1V259.5M338.0 271.5V264.2M351.4 272.0V265.2M354.6 272.1V262.8M381.3 272.7V258.3" stroke="#e2242b" stroke-width="0.7" stroke-opacity="0.55" fill="none"/>
<path d="M301.7 272V225.6M307.5 272V136.4M310.7 272V205.0M311.9 272V211.0M313.0 272V44.0M317.4 272V189.0M318.6 272V187.0M319.6 272V217.0M329.6 272V106.0M333.0 272V58.0M336.1 272V205.0M339.4 272V204.0M342.8 272V214.0M344.3 272V229.0M346.1 272V216.0M349.5 272V185.0M353.0 272V239.0M368.7 272V233.0M379.2 272V219.0M381.6 272V189.0M384.5 272V236.0M386.7 272V262.0M397.6 272V264.5M400.8 272V269.5" stroke="#e2282e" stroke-width="1" stroke-opacity="0.6" fill="none"/>
<path d="M316.5 272V21" stroke="#e2282e" stroke-width="1" stroke-opacity="0.75" fill="none"/>
<path d="M304.5 272V242.0M305.6 272V236.0M309.2 272V248.0M314.6 272V240.0M321.5 272V245.0M323.8 272V238.0M326.2 272V250.0M327.5 272V243.0M331.2 272V252.0M334.8 272V246.0M337.5 272V240.0M341.2 272V249.0M348.0 272V238.0M351.0 272V248.0M355.6 272V252.0M358.4 272V245.0M360.8 272V254.0M363.3 272V248.0M366.0 272V252.0M371.2 272V249.0M374.0 272V255.0M376.5 272V251.0M383.0 272V245.0M389.0 272V258.0M392.5 272V262.0" stroke="#e2242b" stroke-width="0.8" stroke-opacity="0.55" fill="none"/>
<path d="M282.5 21.5V282.3M280 282H657.6" stroke="#8a8a8a" stroke-width="1" fill="none"/><path d="M279.5 282.0H282.5M280.9 276.8H282.5M280.9 271.6H282.5M280.9 266.4H282.5M280.9 261.2H282.5M279.5 255.9H282.5M280.9 250.7H282.5M280.9 245.5H282.5M280.9 240.3H282.5M280.9 235.1H282.5M279.5 229.9H282.5M280.9 224.7H282.5M280.9 219.5H282.5M280.9 214.3H282.5M280.9 209.1H282.5M279.5 203.8H282.5M280.9 198.6H282.5M280.9 193.4H282.5M280.9 188.2H282.5M280.9 183.0H282.5M279.5 177.8H282.5M280.9 172.6H282.5M280.9 167.4H282.5M280.9 162.2H282.5M280.9 157.0H282.5M279.5 151.8H282.5M280.9 146.5H282.5M280.9 141.3H282.5M280.9 136.1H282.5M280.9 130.9H282.5M279.5 125.7H282.5M280.9 120.5H282.5M280.9 115.3H282.5M280.9 110.1H282.5M280.9 104.9H282.5M279.5 99.7H282.5M280.9 94.4H282.5M280.9 89.2H282.5M280.9 84.0H282.5M280.9 78.8H282.5M279.5 73.6H282.5M280.9 68.4H282.5M280.9 63.2H282.5M280.9 58.0H282.5M280.9 52.8H282.5M279.5 47.6H282.5M280.9 42.3H282.5M280.9 37.1H282.5M280.9 31.9H282.5M280.9 26.7H282.5M279.5 21.5H282.5M301.1 282V284.0M315.9 282V284.0M330.7 282V284.0M345.6 282V284.0M360.4 282V285.0M375.2 282V284.0M390.1 282V284.0M404.9 282V284.0M419.7 282V284.0M434.6 282V285.0M449.4 282V284.0M464.3 282V284.0M479.1 282V284.0M493.9 282V284.0M508.8 282V285.0M523.6 282V284.0M538.4 282V284.0M553.3 282V284.0M568.1 282V284.0M582.9 282V285.0M597.8 282V284.0M612.6 282V284.0M627.4 282V284.0M642.3 282V284.0M657.1 282V285.0" stroke="#8a8a8a" stroke-width="0.9" fill="none"/>
<g font-family="Liberation Sans" font-size="9.9" fill="#111"><text transform="translate(279.0,280.4) scale(0.93,1)" text-anchor="end">0</text><text transform="translate(279.0,259.8) scale(0.93,1)" text-anchor="end">10</text><text transform="translate(279.0,233.8) scale(0.93,1)" text-anchor="end">20</text><text transform="translate(279.0,207.8) scale(0.93,1)" text-anchor="end">30</text><text transform="translate(279.0,181.7) scale(0.93,1)" text-anchor="end">40</text><text transform="translate(279.0,155.7) scale(0.93,1)" text-anchor="end">50</text><text transform="translate(279.0,129.6) scale(0.93,1)" text-anchor="end">60</text><text transform="translate(279.0,103.6) scale(0.93,1)" text-anchor="end">70</text><text transform="translate(279.0,77.5) scale(0.93,1)" text-anchor="end">80</text><text transform="translate(279.0,51.5) scale(0.93,1)" text-anchor="end">90</text><text transform="translate(279.0,30.8) scale(0.93,1)" text-anchor="end">100</text><text transform="translate(360.6,293.8) scale(0.93,1)" text-anchor="middle">1000</text><text transform="translate(434.5,293.8) scale(0.93,1)" text-anchor="middle">1500</text><text transform="translate(509,293.8) scale(0.93,1)" text-anchor="middle">2000</text><text transform="translate(582.8,293.8) scale(0.93,1)" text-anchor="middle">2500</text><text transform="translate(647,293.8) scale(0.93,1)" text-anchor="middle">3000</text></g>
<text transform="translate(289.0,293.7) scale(0.8,1)" font-family="Liberation Serif" font-size="11" fill="#222">500</text>
<g font-family="Liberation Serif" font-size="9.8" fill="#111" stroke="#111" stroke-width="0.1" word-spacing="1"><text transform="translate(287.7,20.2) scale(0.93,1)">701.48 {r2164}</text><text transform="translate(283.6,42.4) scale(0.93,1)">679.49 {r2054}</text><text transform="translate(300.5,104.8) scale(0.93,1)">792.57 {r2261}</text><text transform="translate(283,137.0) scale(0.93,1)">644.03 {r2013}</text><text transform="translate(320.4,183.6) scale(0.93,1)">927.67 {r2586}</text><text transform="translate(309.8,202) scale(0.93,1)">855.05 {r2420}</text><text transform="translate(320.4,218.8) scale(0.93,1)">928.69 {r2500}</text><text transform="translate(353.8,235) scale(0.93,1)">1163.48 {r2759}</text><text transform="translate(403.3,269.8) scale(0.93,1)">1483.11 {r954}</text><text transform="translate(490.3,273.2) scale(0.93,1)">2086.90 {r2542}</text></g>
</svg>
</body></html>
